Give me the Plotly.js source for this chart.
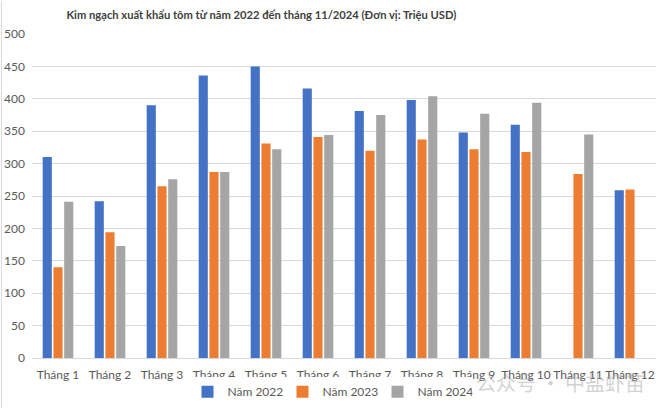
<!DOCTYPE html>
<html>
<head>
<meta charset="utf-8">
<script src="https://cdn.plot.ly/plotly-3.0.1.min.js"></script>
<style>html,body{margin:0;padding:0;background:#fff;}#chart{width:660px;height:408px;}</style>
</head>
<body>
<div id="chart"></div>
<script>
const months = ["Tháng 1","Tháng 2","Tháng 3","Tháng 4","Tháng 5","Tháng 6","Tháng 7","Tháng 8","Tháng 9","Tháng 10","Tháng 11","Tháng 12"];
const y2022 = [310, 242, 390, 436, 450, 416, 381, 398, 348, 360, null, 259];
const y2023 = [140, 194, 265, 287, 331, 341, 320, 337, 322, 318, 284, 260];
const y2024 = [241, 173, 276, 287, 322, 344, 375, 404, 377, 394, 345, null];
const seriesNames = ["Năm 2022","Năm 2023","Năm 2024"];
const colors = ["#4472C4","#ED7D31","#A5A5A5"];
const yTicks = [0,50,100,150,200,250,300,350,400,450,500];

const font = "Lato, sans-serif";
const traces = [y2022,y2023,y2024].map((v,i)=>({
  type:'bar', x:months, y:v, name:seriesNames[i],
  marker:{color:colors[i]}, hoverinfo:'x+y'
}));

const layout = {
  width:660, height:408,
  margin:{l:32, r:4, t:34, b:50},
  paper_bgcolor:'#fff', plot_bgcolor:'#fff',
  title:{text:"Kim ngạch xuất khẩu tôm từ năm 2022 đến tháng 11/2024 (Đơn vị: Triệu USD)",
    font:{family:font, size:11.2, color:'#404040', weight:'bold'}, x:0.396, xanchor:'center', y:0.962, yanchor:'middle'},
  barmode:'group', bargap:0.38, bargroupgap:0.15,
  font:{family:font, size:12, color:'#595959'},
  xaxis:{type:'category', showgrid:false, zeroline:false, showline:true, linecolor:'#d9d9d9', ticks:'', ticklabelstandoff:6, tickfont:{size:12, color:'#595959'}},
  yaxis:{range:[0,500], tickvals:yTicks, showgrid:true, gridcolor:'#d9d9d9', zeroline:false, ticks:'', tickfont:{size:12, color:'#595959'}, ticklabelstandoff:6},
  legend:{orientation:'h', xref:'container', yref:'container', x:0.5, xanchor:'center', y:0.04, yanchor:'middle', font:{size:12, color:'#595959'}, itemwidth:30, entrywidth:50, traceorder:'normal'},
  annotations:[{text:"公众号 · 中盐虾苗", xref:'paper', yref:'paper', x:0.985, y:-0.075, xanchor:'right', yanchor:'middle', showarrow:false,
    font:{family:"'Noto Sans CJK SC', sans-serif", size:20, color:'rgba(165,165,165,0.5)'}}],
  shapes:[{type:'line', xref:'paper', yref:'paper', x0:-0.049, x1:-0.049, y0:-0.16, y1:1.1, line:{width:1, color:'#d9d9d9'}}]
};
Plotly.newPlot('chart', traces, layout, {displayModeBar:false, staticPlot:true});
</script>
</body>
</html>
